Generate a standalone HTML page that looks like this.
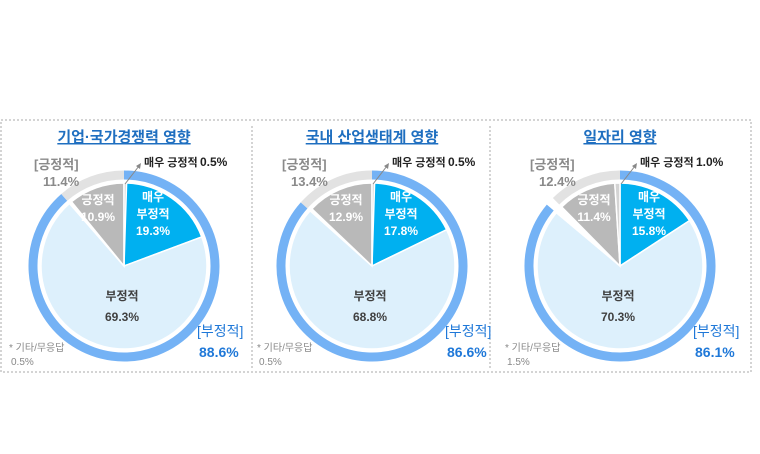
<!DOCTYPE html>
<html><head><meta charset="utf-8"><style>
body{margin:0;background:#fff;width:760px;height:449px;overflow:hidden;font-family:"Liberation Sans","Noto Sans CJK KR",sans-serif}
svg text{font-family:"Liberation Sans","Noto Sans CJK KR",sans-serif}
</style></head><body>
<svg id="s" width="760" height="449">
<rect x="1" y="120" width="750" height="252" fill="none" stroke="#aaa" stroke-dasharray="2,2"/>
<line x1="252" y1="126" x2="252" y2="370" stroke="#aaa" stroke-dasharray="2,2"/>
<line x1="490" y1="126" x2="490" y2="370" stroke="#aaa" stroke-dasharray="2,2"/>
</svg>
<script>
const titles=["기업·국가경쟁력 영향","국내 산업생태계 영향","일자리 영향"];
const veryNeg=[19.3,17.8,15.8];
const neg=[69.3,68.8,70.3];
const pos=[10.9,12.9,11.4];
const veryPos=[0.5,0.5,1.0];
const other=[0.5,0.5,1.5];
const negTotal=[88.6,86.6,86.1];
const posTotal=[11.4,13.4,12.4];
const centers=[124,372,620];
const NS="http://www.w3.org/2000/svg";
const svg=document.getElementById('s');
function mk(tag,attrs,parent){const e=document.createElementNS(NS,tag);for(const k in attrs)e.setAttribute(k,attrs[k]);(parent||svg).appendChild(e);return e;}
function pt(cx,cy,r,p){const a=p/100*2*Math.PI;return [cx+r*Math.sin(a),cy-r*Math.cos(a)];}
function wedge(cx,cy,r,p0,p1){const a=pt(cx,cy,r,p0),b=pt(cx,cy,r,p1);const l=(p1-p0)>50?1:0;return `M${cx},${cy}L${a[0]},${a[1]}A${r},${r} 0 ${l} 1 ${b[0]},${b[1]}Z`;}
function arc(cx,cy,r,p0,p1){const a=pt(cx,cy,r,p0),b=pt(cx,cy,r,p1);const l=(p1-p0)>50?1:0;return `M${a[0]},${a[1]}A${r},${r} 0 ${l} 1 ${b[0]},${b[1]}`;}
function txt(x,y,s,o,parent){const t=mk('text',Object.assign({x:x,y:y,'font-size':12,fill:'#404040','font-weight':'bold'},o),parent);t.textContent=s;return t;}
for(let i=0;i<3;i++){
  const cx=centers[i],cy=266;
  const g=mk('g',{});
  
  
  const tt=txt(cx,142,titles[i],{'font-size':15,'font-weight':'bold',fill:'#1f6fc0','text-anchor':'middle','text-decoration':'underline'},g);
  
  
  const r1=mk('path',{d:arc(cx,cy,91,0,negTotal[i]),fill:'none',stroke:'#74b2f5','stroke-width':9},g);
  
  
  const r2=mk('path',{d:arc(cx,cy,91,100-posTotal[i],100),fill:'none',stroke:'#e2e2e2','stroke-width':9},g);
  
  
  const vals=[veryNeg[i],neg[i],other[i],pos[i],veryPos[i]];
  const cols=['#00b0f0','#ddf0fc','#ffffff','#b9b9b9','#d4d4d4'];
  const names=['slice-very-negative','slice-negative','slice-other','slice-positive','slice-very-positive'];
  let acc=0;
  for(let k=0;k<5;k++){
    const p=mk('path',{d:wedge(cx,cy,83,acc,acc+vals[k]),fill:cols[k],stroke:'#fff','stroke-width':1.5},g);
    
    
    acc+=vals[k];
  }
  txt(cx+29,201,'매우',{fill:'#fff','text-anchor':'middle'},g);
  txt(cx+29,218,'부정적',{fill:'#fff','text-anchor':'middle'},g);
  txt(cx+29,235,veryNeg[i].toFixed(1)+'%',{fill:'#fff','text-anchor':'middle'},g);
  txt(cx-26,204,'긍정적',{fill:'#fff','text-anchor':'middle'},g);
  txt(cx-26,221,pos[i].toFixed(1)+'%',{fill:'#fff','text-anchor':'middle'},g);
  txt(cx-2,300,'부정적',{'text-anchor':'middle'},g);
  txt(cx-2,321,neg[i].toFixed(1)+'%',{'text-anchor':'middle'},g);
  txt(cx-90,169,'[긍정적]',{'font-size':13,fill:'#8a8a8a'},g);
  txt(cx-81,186,posTotal[i].toFixed(1)+'%',{'font-size':13,fill:'#8a8a8a'},g);
  mk('line',{x1:cx+1,y1:184,x2:cx+15,y2:166,stroke:'#888'},g);
  mk('path',{d:`M${cx+17},${163}l-1,6l-4,-3z`,fill:'#888'},g);
  txt(cx+20,166,'매우 긍정적',{'font-size':11,fill:'#222'},g);
  txt(cx+76,166,veryPos[i].toFixed(1)+'%',{'font-size':12,fill:'#222','font-weight':'bold'},g);
  txt(cx+73,336,'[부정적]',{'font-size':14,fill:'#1f78d8','font-weight':'normal'},g);
  txt(cx+75,357,negTotal[i].toFixed(1)+'%',{'font-size':14,fill:'#1f78d8','font-weight':'bold'},g);
  txt(cx-115,351,'* 기타/무응답',{'font-size':10,fill:'#888','font-weight':'normal'},g);
  txt(cx-113,365,other[i].toFixed(1)+'%',{'font-size':10,fill:'#888','font-weight':'normal'},g);
}
</script>
</body></html>
